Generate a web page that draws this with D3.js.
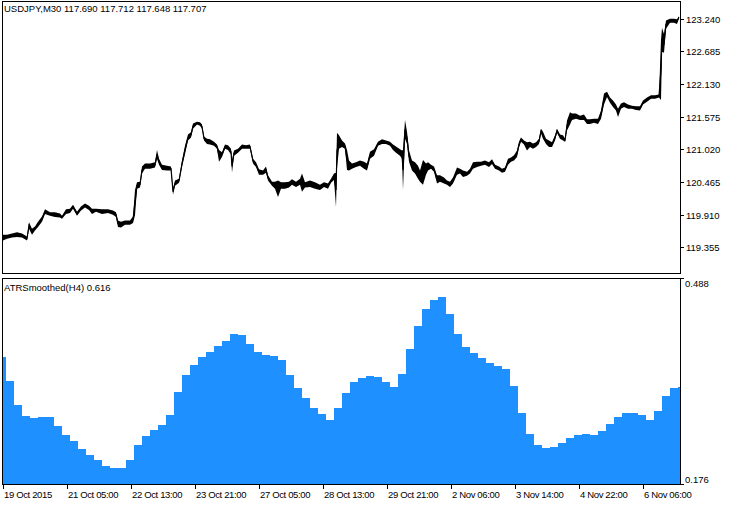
<!DOCTYPE html>
<html><head><meta charset="utf-8">
<script src="https://cdn.jsdelivr.net/npm/d3@7"></script>
<style>
body{margin:0;background:#fff}
svg{display:block}
text{font-family:"Liberation Sans",Arial,sans-serif;fill:#000}
</style>
</head><body>
<svg id="c" width="732" height="506"></svg>
<script>
// ---- price (M30) samples: bar index, high, low ----
const priceBar = [
 1,5,10,15,20,25,27,30,33,36,
 40,43,48,53,58,60,64,68,71,75,
 79,83,87,90,94,100,106,111,114,116,
 119,123,128,131,133,135,138,140,143,148,
 153,155,157,160,165,169,171,173,177,180,
 183,186,189,191,195,198,200,202,205,208,
 212,215,217,220,223,226,229,230,232,236,
 240,244,248,251,254,257,261,264,266,270,
 273,276,279,283,287,290,294,298,300,303,
 308,313,318,322,326,329,332,334,335,337,
 340,343,345,347,350,354,358,362,365,368,
 372,376,380,384,388,391,394,398,400,401,
 403,405,407,410,413,416,418,421,424,426,
 429,432,435,438,442,445,448,451,455,458,
 461,465,468,471,475,479,483,487,490,493,
 497,500,503,506,509,512,515,517,519,522,
 525,528,531,534,537,539,541,544,547,550,
 553,555,558,561,563,565,568,570,574,578,
 582,585,588,592,596,599,602,605,608,611,
 614,616,619,622,626,630,634,638,641,645,
 649,653,657,659,660,662,664,668,672,675,
 677];
const priceHigh = [
 119.57,119.57,119.59,119.61,119.59,119.54,119.78,119.67,119.71,119.79,
 119.88,120.00,119.95,119.95,119.93,119.89,120.00,120.01,120.08,119.96,
 120.05,120.10,120.06,120.01,120.01,120.00,120.00,119.98,119.95,119.81,
 119.79,119.81,119.81,119.88,120.33,120.46,120.47,120.73,120.78,120.78,
 120.80,121.01,120.86,120.76,120.74,120.73,120.35,120.49,120.52,120.83,
 121.08,121.27,121.31,121.46,121.49,121.48,121.44,121.24,121.20,121.19,
 121.15,121.10,121.01,120.97,121.10,121.09,121.03,120.84,121.00,121.03,
 121.10,121.09,121.10,120.86,120.80,120.68,120.66,120.73,120.58,120.47,
 120.47,120.49,120.46,120.46,120.47,120.51,120.47,120.52,120.61,120.46,
 120.49,120.46,120.42,120.46,120.44,120.52,120.61,120.62,121.30,121.26,
 121.17,121.12,121.01,120.83,120.78,120.80,120.83,120.81,120.78,120.98,
 121.02,121.15,121.19,121.17,121.15,121.10,121.07,121.02,121.00,121.01,
 121.52,121.32,121.00,120.83,120.80,120.74,120.66,120.84,120.78,120.80,
 120.76,120.73,120.58,120.58,120.54,120.49,120.47,120.54,120.71,120.69,
 120.66,120.64,120.69,120.80,120.81,120.81,120.83,120.80,120.85,120.76,
 120.73,120.69,120.71,120.86,120.88,120.92,121.00,121.15,121.22,121.17,
 121.14,121.15,121.12,121.14,121.20,121.37,121.32,121.20,121.17,121.14,
 121.26,121.37,121.27,121.26,121.20,121.51,121.65,121.63,121.63,121.59,
 121.61,121.53,121.53,121.54,121.54,121.68,121.97,122.00,121.90,121.85,
 121.78,121.71,121.80,121.82,121.78,121.76,121.75,121.75,121.85,121.90,
 121.94,121.94,121.95,122.88,123.08,122.98,123.21,123.24,123.24,123.23,
 123.28];
const priceLow = [
 119.47,119.50,119.52,119.53,119.52,119.47,119.67,119.57,119.64,119.70,
 119.79,119.92,119.89,119.87,119.86,119.84,119.92,119.94,120.01,119.89,
 119.98,120.03,119.99,119.92,119.96,119.92,119.94,119.91,119.87,119.70,
 119.69,119.74,119.74,119.77,119.90,120.35,120.37,120.61,120.69,120.69,
 120.71,120.86,120.76,120.67,120.66,120.66,120.25,120.40,120.45,120.72,
 120.94,121.17,121.22,121.37,121.44,121.42,121.37,121.17,121.11,121.10,
 121.08,121.03,120.81,120.89,121.03,121.01,120.93,120.62,120.91,120.96,
 121.03,121.03,121.03,120.78,120.72,120.59,120.59,120.62,120.49,120.40,
 120.35,120.21,120.35,120.35,120.37,120.42,120.38,120.42,120.30,120.37,
 120.38,120.35,120.33,120.38,120.35,120.45,120.50,120.04,120.70,121.03,
 121.06,121.03,120.67,120.66,120.69,120.72,120.74,120.69,120.66,120.86,
 120.91,121.08,121.11,121.11,121.08,121.01,120.96,120.91,120.86,120.33,
 121.20,121.11,120.81,120.66,120.61,120.52,120.47,120.42,120.59,120.66,
 120.69,120.64,120.44,120.47,120.44,120.42,120.38,120.44,120.59,120.61,
 120.55,120.57,120.61,120.69,120.72,120.74,120.76,120.72,120.77,120.69,
 120.66,120.62,120.64,120.76,120.81,120.83,120.89,121.05,121.15,121.10,
 121.00,121.06,121.03,121.06,121.11,121.29,121.20,121.11,121.06,121.06,
 121.17,121.30,121.20,121.17,121.15,121.34,121.44,121.52,121.54,121.52,
 121.52,121.45,121.45,121.47,121.45,121.54,121.78,121.91,121.81,121.74,
 121.68,121.57,121.71,121.74,121.71,121.71,121.69,121.68,121.78,121.83,
 121.88,121.88,121.90,121.86,122.68,122.66,123.07,123.17,123.17,123.15,
 123.25];

// ---- ATRSmoothed (H4) histogram values, one per H4 bar ----
const atrValues = [
 0.368,0.332,0.296,0.279,0.276,0.277,0.277,0.264,0.250,0.241,
 0.229,0.220,0.212,0.203,0.200,0.200,0.212,0.235,0.249,0.258,
 0.265,0.281,0.315,0.341,0.356,0.368,0.376,0.385,0.393,0.403,
 0.402,0.388,0.376,0.371,0.370,0.364,0.341,0.321,0.306,0.291,
 0.282,0.273,0.291,0.314,0.330,0.337,0.340,0.338,0.330,0.323,
 0.343,0.380,0.415,0.441,0.455,0.459,0.434,0.403,0.383,0.374,
 0.367,0.359,0.355,0.350,0.324,0.284,0.252,0.235,0.231,0.232,
 0.238,0.246,0.250,0.252,0.250,0.256,0.267,0.277,0.284,0.284,
 0.281,0.273,0.287,0.309,0.321,0.323];

// ---- axes ----
const priceTicks = [119.355,119.910,120.465,121.020,121.575,122.130,122.685,123.240];
const atrTicks = [0.176,0.488];
const timeTickBars = [0,64,128,192,256,320,384,448,512,576,640];
const timeTickLabels = ["19 Oct 2015","21 Oct 05:00","22 Oct 13:00","23 Oct 21:00","27 Oct 05:00",
  "28 Oct 13:00","29 Oct 21:00","2 Nov 06:00","3 Nov 14:00","4 Nov 22:00","6 Nov 06:00"];
const mainTitle = "USDJPY,M30  117.690 117.712 117.648 117.707";
const subTitle = "ATRSmoothed(H4) 0.616";

// ---- layout ----
const L = 2, R = 680, T1 = 1, B1 = 273, T2 = 278, B2 = 484;
const svg = d3.select('#c');
const x = d3.scaleLinear().domain([0, 678]).range([L, R]);
const yP = d3.scaleLinear().domain([119.355, 123.240]).range([247.3, 18.7]);
const yA = d3.scaleLinear().domain([0.176, 0.488]).range([B2, T2]);

const defs = svg.append('defs');
defs.append('clipPath').attr('id','clipT').append('rect').attr('x',L+1).attr('y',T1+1).attr('width',R-L-1).attr('height',B1-T1-1);
defs.append('clipPath').attr('id','clipB').append('rect').attr('x',L+1).attr('y',T2+1).attr('width',R-L-1).attr('height',B2-T2-1);

// histogram
svg.append('g').attr('clip-path','url(#clipB)')
  .selectAll('rect').data(atrValues).join('rect')
  .attr('x',(d,i)=>Math.round(x(i*8-4)))
  .attr('width',(d,i)=>Math.round(x(i*8+4))-Math.round(x(i*8-4)))
  .attr('y',d=>Math.round(yA(d)))
  .attr('height',d=>B2-Math.round(yA(d)))
  .attr('fill','#1E90FF')
  .attr('shape-rendering','crispEdges');

// price band
const idx = d3.range(priceBar.length);
const area = d3.area()
  .x(i=>x(priceBar[i]))
  .y0(i=>yP(priceLow[i]))
  .y1(i=>yP(priceHigh[i]));
const mid = d3.line()
  .x(i=>x(priceBar[i]))
  .y(i=>yP((priceLow[i]+priceHigh[i])/2));
const pgrp = svg.append('g').attr('clip-path','url(#clipT)');
pgrp.append('path').datum(idx).attr('d',area).attr('fill','#000');
pgrp.append('path').datum(idx).attr('d',mid).attr('fill','none').attr('stroke','#000').attr('stroke-width',1.2);

// panel borders
const border = svg.append('g').attr('fill','none').attr('stroke','#000').attr('stroke-width',1).attr('shape-rendering','crispEdges');
border.append('rect').attr('x',L+0.5).attr('y',T1+0.5).attr('width',R-L).attr('height',B1-T1);
border.append('rect').attr('x',L+0.5).attr('y',T2+0.5).attr('width',R-L).attr('height',B2-T2);

// price axis
const pg = svg.append('g');
priceTicks.forEach(v=>{
  const yy = Math.round(yP(v))+0.5;
  pg.append('line').attr('x1',R).attr('x2',R+4).attr('y1',yy).attr('y2',yy).attr('stroke','#000').attr('shape-rendering','crispEdges');
  pg.append('text').attr('x',R+6).attr('y',yy+3.5).attr('font-size','9.5px').text(d3.format('.3f')(v));
});

// atr axis
const ag = svg.append('g');
atrTicks.forEach(v=>{
  const yy = Math.round(yA(v))+0.5;
  ag.append('line').attr('x1',R).attr('x2',R+4).attr('y1',yy).attr('y2',yy).attr('stroke','#000').attr('shape-rendering','crispEdges');
  const top = v === d3.max(atrTicks);
  ag.append('text').attr('x',R+5).attr('y',top ? yy+8.5 : yy-1.5).attr('font-size','9.5px').text(d3.format('.3f')(v));
});

// time axis
const tg = svg.append('g');
timeTickBars.forEach((b,i)=>{
  const xx = Math.round(x(b)+0.7)+0.5;
  tg.append('line').attr('x1',xx).attr('x2',xx).attr('y1',B2).attr('y2',B2+5).attr('stroke','#000').attr('shape-rendering','crispEdges');
  tg.append('text').attr('x',xx+0.5).attr('y',B2+14).attr('font-size','9.5px').attr('letter-spacing','-0.35px').text(timeTickLabels[i]);
});

// titles
svg.append('text').attr('x',L+2).attr('y',T1+11).attr('font-size','9.5px').text(mainTitle);
svg.append('text').attr('x',L+2).attr('y',T2+13).attr('font-size','9.5px').text(subTitle);
</script>
</body></html>
